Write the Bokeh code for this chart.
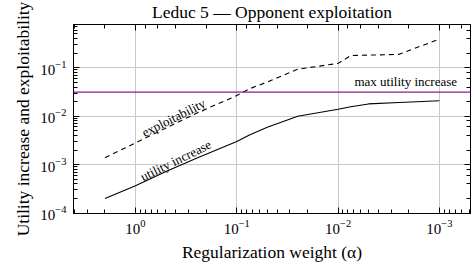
from bokeh.plotting import figure
from bokeh.models import Range1d, LogAxis, Span, ColumnDataSource
from bokeh.core.properties import value
from bokeh.embed import file_html
from bokeh.resources import INLINE

# ---- data ----
alpha = [2, 1, 0.5, 0.25, 0.1, 0.075, 0.05, 0.025, 0.01, 0.0075, 0.005, 0.0025, 0.001]
utility_increase = [2.0e-4, 3.65e-4, 7.2e-4, 1.35e-3, 3.0e-3, 4.1e-3, 5.9e-3,
                    1.0e-2, 1.39e-2, 1.57e-2, 1.79e-2, 1.92e-2, 2.08e-2]
exploitability = [1.39e-3, 2.81e-3, 5.7e-3, 1.15e-2, 2.66e-2, 3.67e-2, 5.08e-2,
                  9.3e-2, 1.23e-1, 1.78e-1, 1.82e-1, 1.89e-1, 3.91e-1]
max_utility_increase = 0.0314

title_text = "Leduc 5 \u2014 Opponent exploitation"
x_label = "Regularization weight (\u03b1)"
y_label = "Utility increase and exploitability"
curve_labels = ["exploitability", "utility increase", "max utility increase"]
label_x = [0.42, 0.40, 6.7e-4]
label_y = [0.0093, 0.00122, 0.052]

FONT = "Liberation Serif"

p = figure(width=472, height=264, x_axis_type="log", y_axis_type="log",
           x_range=Range1d(4.09, 4.93e-4), y_range=Range1d(9.8e-5, 0.78),
           output_backend="svg", toolbar_location=None,
           min_border_left=73, min_border_right=2, min_border_top=20, min_border_bottom=50)

p.background_fill_color = "white"
p.border_fill_color = "white"
p.outline_line_color = "black"
p.outline_line_width = 1
p.outline_line_alpha = 1

p.title.text = title_text
p.title.align = "center"
p.title.vertical_align = "top"
p.title.text_font = FONT
p.title.text_font_size = "17.5px"
p.title.text_font_style = "normal"
p.title.text_color = "black"
p.title.text_line_height = 0.5
p.title.standoff = 2

for ax in (p.xaxis[0], p.yaxis[0]):
    ax.major_tick_in = 6
    ax.major_tick_out = 0
    ax.minor_tick_in = 4
    ax.minor_tick_out = 0
    ax.axis_line_color = "black"
    ax.major_tick_line_color = "black"
    ax.minor_tick_line_color = "black"
    ax.major_label_text_font = FONT
    ax.major_label_text_font_size = "15px"
    ax.major_label_text_color = "black"
    ax.axis_label_text_font = FONT
    ax.axis_label_text_font_size = "17.5px"
    ax.axis_label_text_font_style = "normal"
    ax.axis_label_text_color = "black"

p.xaxis.axis_label = x_label
p.yaxis.axis_label = y_label
p.xaxis.major_label_standoff = 6
p.yaxis.major_label_standoff = 7
p.xaxis.axis_label_standoff = 5
p.yaxis.axis_label_standoff = 4

for loc in ("above", "right"):
    ax = LogAxis(major_tick_in=6, major_tick_out=0, minor_tick_in=4, minor_tick_out=0,
                 major_label_text_font_size="1px", major_label_text_alpha=0.0,
                 major_label_standoff=0,
                 axis_line_color="black", major_tick_line_color="black",
                 minor_tick_line_color="black")
    p.add_layout(ax, loc)

p.grid.grid_line_color = "#c8c8c8"
p.grid.grid_line_width = 1
p.grid.minor_grid_line_color = None

src = ColumnDataSource(dict(alpha=alpha, util=utility_increase, expl=exploitability))
p.line("alpha", "expl", source=src, line_color="black", line_width=1.1, line_dash="5 4")
p.line("alpha", "util", source=src, line_color="black", line_width=1.1)

p.add_layout(Span(location=max_utility_increase, dimension="width",
                  line_color="#8a1f8a", line_width=1.2))

angles = [0.463, 0.455, 0.0]
aligns = ["center", "center", "right"]
for t, x, y, a, al in zip(curve_labels, label_x, label_y, angles, aligns):
    p.text(x=[x], y=[y], text=[t], angle=a, text_align=al, text_baseline="middle",
           text_font=value(FONT), text_font_size="13px", text_color="black")

open("out.html", "w").write(file_html(p, INLINE))
